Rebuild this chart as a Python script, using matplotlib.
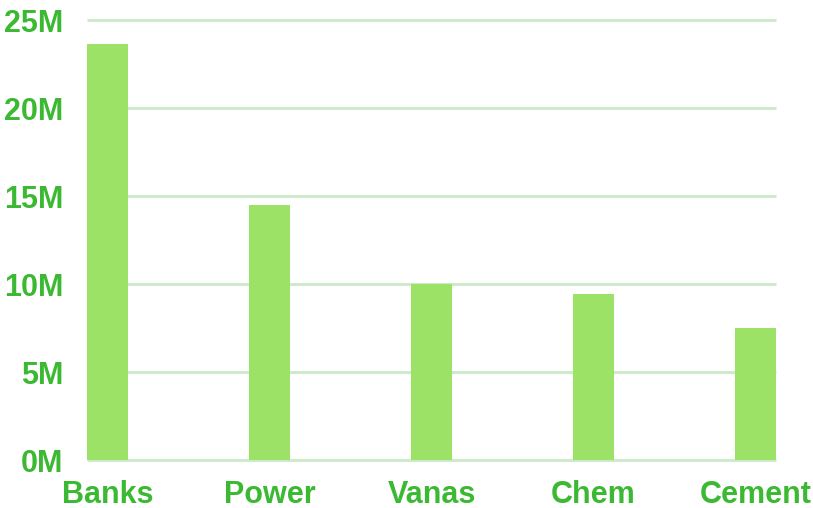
import matplotlib.pyplot as plt
import numpy as np
from matplotlib.ticker import FuncFormatter

# sector totals (millions)
sectors = ['Banks', 'Power', 'Vanas', 'Chem', 'Cement']
values = [23.65, 14.52, 10.02, 9.43, 7.5]
yticks = [0, 5, 10, 15, 20, 25]

txt_col = '#3cb932'
bar_col = '#9ce267'
grid_col = '#cdebca'

plt.rcParams['font.family'] = ['Liberation Sans', 'DejaVu Sans']

fig = plt.figure(figsize=(8.13, 5.08), dpi=100)
ax = fig.add_axes([87/813, 1-460.3/508, (776-87)/813, (460.3-20.3)/508])

w = 0.256
x = np.arange(len(sectors))
ax.bar(x, values, width=w, color=bar_col, zorder=2)

ax.set_xlim(-w/2, len(sectors)-1+w/2)
ax.set_ylim(0, 25)
ax.set_yticks(yticks)
ax.yaxis.set_major_formatter(FuncFormatter(lambda v, p: '%dM' % v))
ax.set_xticks(x)
ax.set_xticklabels(sectors)

ax.grid(axis='y', color=grid_col, lw=2.2, zorder=0)
for gl in ax.get_ygridlines():
    gl.set_clip_on(False)
    gl.set_solid_capstyle('butt')
ax.set_axisbelow(True)
for s in ax.spines.values():
    s.set_visible(False)
ax.tick_params(length=0, labelsize=22, labelcolor=txt_col)
ax.tick_params(axis='y', pad=17)
ax.tick_params(axis='x', pad=14)
for lbl in ax.get_xticklabels() + ax.get_yticklabels():
    lbl.set_fontweight('bold')

fig.savefig('out.png', dpi=100)
